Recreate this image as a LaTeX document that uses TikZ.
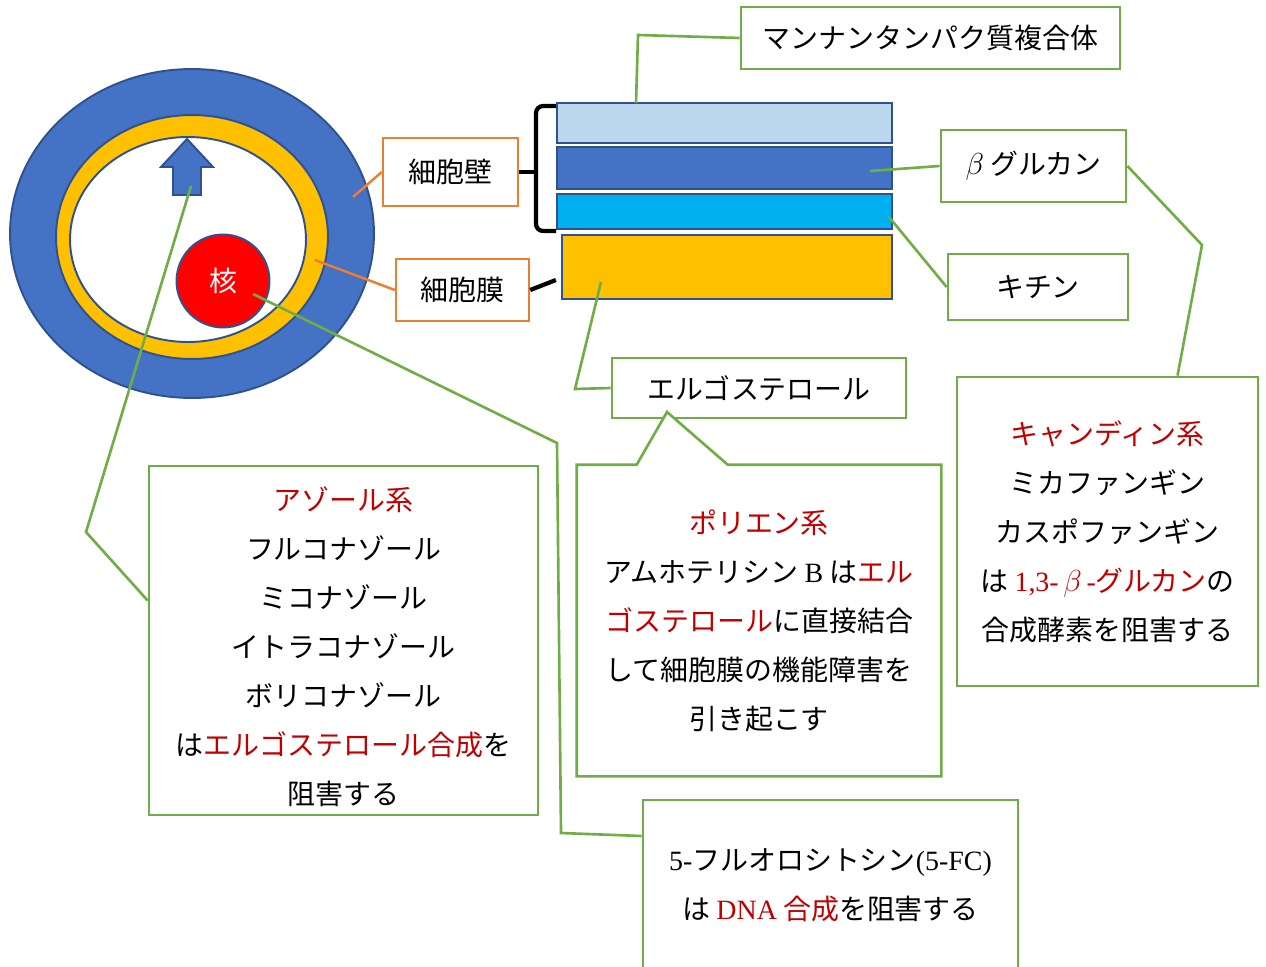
\documentclass[tikz,border=0pt]{standalone}
\usepackage{fontspec}
\setmainfont{Noto Sans CJK JP}
\newfontfamily\latin{Liberation Serif}
\usetikzlibrary{calc}

\definecolor{cellblue}{HTML}{4472C4}
\definecolor{edgeblue}{HTML}{2F528F}
\definecolor{paleblue}{HTML}{BDD7EE}
\definecolor{skyblue}{HTML}{00B0F0}
\definecolor{gold}{HTML}{FFC000}
\definecolor{boxgreen}{HTML}{70AD47}
\definecolor{boxorange}{HTML}{ED7D31}
\definecolor{textred}{HTML}{C00000}
\newcommand\redtext[1]{\textcolor{textred}{#1}}

\begin{document}
\begin{tikzpicture}[x=0.02cm, y=-0.02cm,
	every node/.style={font=\fontsize{15.9}{27.9}\selectfont},
	greenbox/.style={draw=boxgreen, line width=1.6pt, fill=white, align=center, inner sep=0pt},
	orangebox/.style={draw=boxorange, line width=1.4pt, fill=white, inner sep=0pt},
	layer/.style={draw=edgeblue, line width=1.3pt, minimum width=6.7cm, inner sep=0pt},
	link/.style={draw=boxgreen, line width=1.5pt},
	tie/.style={draw=boxorange, line width=1.4pt},
	bar/.style={draw=black, line width=2.4pt}]
	\useasboundingbox (0,0) rectangle (1266,966);
	% cell
	\draw[fill=cellblue, draw=edgeblue, line width=1.1pt] (192,233.5) ellipse [x radius=3.64cm, y radius=3.29cm];
	\draw[fill=gold, draw=edgeblue, line width=1.1pt] (192,237) ellipse [x radius=2.72cm, y radius=2.44cm];
	\draw[fill=white, draw=edgeblue, line width=1.1pt] (188,239.5) ellipse [x radius=2.36cm, y radius=2.05cm];
	\draw[fill=cellblue, draw=edgeblue, line width=1.1pt, line join=miter] (187,139) -- (213,167) -- (201,167) -- (201,195) -- (173,195) -- (173,167) -- (161,167) -- cycle;
	\coordinate (pore) at (191,186);
	\node[circle, fill=red, draw=edgeblue, line width=1.1pt, minimum size=1.86cm, inner sep=0pt, text=white] (nucleus) at (223,281) {核};
	\coordinate (nuc) at (253,294);
	% wall layers
	\node[layer, fill=paleblue, minimum height=0.8cm] (layerMannan) at (724.5,123) {};
	\node[layer, fill=cellblue, minimum height=0.84cm] (layerGlucan) at (724.5,168) {};
	\node[layer, fill=skyblue, minimum height=0.7cm] (layerChitin) at (724.5,211.5) {};
	\node[layer, fill=gold, minimum width=6.6cm, minimum height=1.28cm] (layerMem) at (727,267) {};
	\coordinate (pMannan) at (636,103);
	\coordinate (pGlucan) at (870,171);
	\coordinate (pChitin) at (889,217);
	\coordinate (pMem) at (601,282);
	% labels
	\node[orangebox, minimum width=2.7cm, minimum height=1.36cm] (wall) at (450.5,172) {細胞壁};
	\node[orangebox, minimum width=2.66cm, minimum height=1.24cm] (membrane) at (462.5,290) {細胞膜};
	\node[greenbox, minimum width=7.58cm, minimum height=1.24cm] (mannan) at (930.5,38) {マンナンタンパク質複合体};
	\node[greenbox, minimum width=3.7cm, minimum height=1.44cm] (glucan) at (1033.5,166) {$\beta$ グルカン};
	\node[greenbox, minimum width=3.6cm, minimum height=1.32cm] (chitin) at (1038,287) {キチン};
	\node[greenbox, minimum width=5.88cm, minimum height=1.2cm] (ergo) at (759,388) {エルゴステロール};
	\coordinate (ergotip) at (667,412);
	% drugs
	\node[greenbox, minimum width=7.78cm, minimum height=6.98cm] (azole) at (343.5,640.5) {};
	\node[align=center, inner sep=0pt] at ($(azole)+(0,6.5)$) {\redtext{アゾール系}\\フルコナゾール\\ミコナゾール\\イトラコナゾール\\ボリコナゾール\\は\redtext{エルゴステロール合成}を\\阻害する};
	\node[inner sep=0pt, minimum width=7.28cm, minimum height=6.22cm] (polyene) at (759,620.5) {};
	\draw[link, fill=white, line join=miter] (polyene.north west) -- ++(60,0) -- (ergotip) -- ($(polyene.north west)+(151,0)$) -- (polyene.north east) -- (polyene.south east) -- (polyene.south west) -- cycle;
	\node[align=center, inner sep=0pt] at (polyene) {\redtext{ポリエン系}\\アムホテリシン {\latin B} は\redtext{エル}\\\redtext{ゴステロール}に直接結合\\して細胞膜の機能障害を\\引き起こす};
	\node[greenbox, minimum width=6.02cm, minimum height=6.18cm] (candin) at (1107.5,531.5) {\redtext{キャンディン系}\\ミカファンギン\\カスポファンギン\\は \redtext{{\latin 1,3-}\,$\beta$\,{\latin -}グルカン}の\\合成酵素を阻害する};
	\node[greenbox, minimum width=7.5cm, minimum height=3.4cm] (flucyt) at (830.5,885) {{\latin 5-}フルオロシトシン{\latin (5-FC)}\\は \redtext{{\latin DNA} 合成}を阻害する};
	% connectors
	\draw[tie] (353,197) -- (wall.west);
	\draw[tie] (315,260) -- (membrane.west);
	\draw[bar] (wall.east) -- (536,172);
	\draw[bar, rounded corners=4pt] (556,106) -- (536,106) -- (536,231) -- (556,231);
	\draw[bar] (membrane.east) -- ($(layerMem.west)+(-5,13)$);
	\draw[link] (pMannan) -- (638,35) -- (mannan.west);
	\draw[link] (pGlucan) -- (glucan.west);
	\draw[link] (pChitin) -- (chitin.west);
	\draw[link] (pMem) -- (575,389) -- (ergo.west);
	\draw[link] (glucan.east) -- (1202,245) -- ($(candin.north)+(70,0)$);
	\draw[link] (pore) -- (86,532) -- ($(azole.west)+(0,-40)$);
	\draw[link] (nuc) -- (557,443) -- (561,833) -- ($(flucyt.west)+(0,-49)$);
\end{tikzpicture}
\end{document}
